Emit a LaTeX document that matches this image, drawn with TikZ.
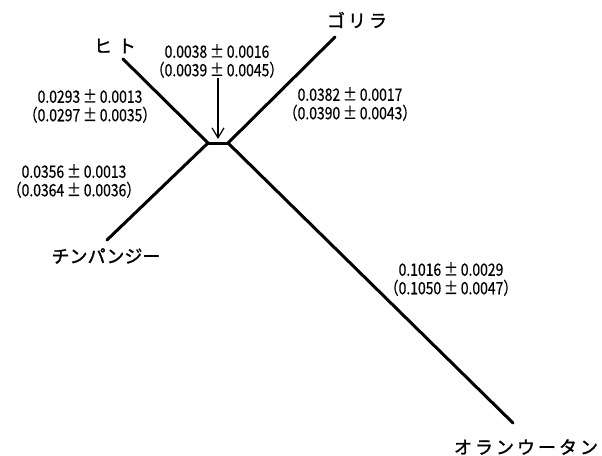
\documentclass[tikz,border=0pt]{standalone}
\usepackage{fontspec}
\setmainfont{Noto Sans CJK JP}
\newfontfamily\numfont[FakeStretch=0.82,FakeBold=0.5]{Noto Sans CJK JP}
\newfontfamily\kanafont[FakeBold=1.4]{Noto Sans CJK JP}
\usepackage{tikz}
\usetikzlibrary{positioning,arrows.meta}
\newcommand{\pmx}{\,±\,}
\tikzset{
  branch/.style={line width=3pt,line cap=round,draw=black},
  species/.style={inner sep=0pt,font=\kanafont\fontsize{18}{18}\selectfont},
  blen/.style={inner sep=0pt,align=center,
    font=\numfont\fontsize{17}{18.5}\selectfont},
  pointer/.style={-{Straight Barb[length=10pt,width=12pt,line width=1.2pt]},line width=1.2pt},
}

\begin{document}
\begin{tikzpicture}[x=1pt,y=-1pt]
  \useasboundingbox (0,0) rectangle (602,455);
  % tree points
  \coordinate (nl) at (208,143);
  \coordinate (nr) at (228,143);
  \coordinate (hito) at (123,59);
  \coordinate (chimp) at (107,240);
  \coordinate (gori) at (335,37);
  \coordinate (oran) at (513,423);
  \coordinate (mid) at (218,139);
  % species names
  \node[species] (lhito) at (115,46) {ヒ\,\,ト};
  \node[species] (lgori) at (357,20) {ゴ\,リ\,ラ};
  \node[species] (lchimp) at (106,256) {チンパンジー};
  \node[species] (loran) at (526,447) {オ\,ラ\,ン\,ウ\,ー\,タ\,ン};
  % branches
  \draw[branch] (hito) -- (nl);
  \draw[branch] (chimp) -- (nl);
  \draw[branch] (nl) -- (nr);
  \draw[branch] (gori) -- (nr);
  \draw[branch] (nr) -- (oran);
  % branch lengths
  \node[blen] (binner) at (217,61) {0.0038\pmx0.0016\\（0.0039\pmx0.0045）};
  \node[blen] (bhito) at (90,106) {0.0293\pmx0.0013\\（0.0297\pmx0.0035）};
  \node[blen] (bchimp) at (74,181) {0.0356\pmx0.0013\\（0.0364\pmx0.0036）};
  \node[blen] (bgori) at (350,104) {0.0382\pmx0.0017\\（0.0390\pmx0.0043）};
  \node[blen] (boran) at (451,279) {0.1016\pmx0.0029\\（0.1050\pmx0.0047）};
  \draw[pointer] (binner.south -| mid) -- (mid);
\end{tikzpicture}
\end{document}
